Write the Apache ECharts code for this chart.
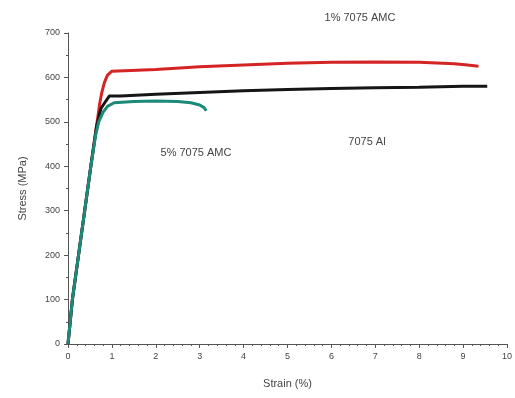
<!DOCTYPE html>
<html><head><meta charset="utf-8">
<script src="https://cdn.jsdelivr.net/npm/echarts@6/dist/echarts.min.js"></script>
<style>html,body{margin:0;padding:0;background:#fff}#c{width:515px;height:398px}</style>
</head><body><div id="c"></div>
<script>
const xTicks = [0,1,2,3,4,5,6,7,8,9,10];
const yTicks = [0,100,200,300,400,500,600,700];
const amc1Strain = [0,0.1,0.24,0.38,0.52,0.65,0.72,0.77,0.83,0.9,1.0,2,3,4,5,6,7,8,8.8,9.1,9.35];
const amc1Stress = [0,100,200,300,400,490,540,566,589,605,614,618,624,628,632,634,635,634,631,628,625];
const al7075Strain = [0,0.1,0.24,0.38,0.52,0.65,0.75,0.87,0.94,1.2,2,3,4,5,6,7,8,9,9.55];
const al7075Stress = [0,100,200,300,400,490,530,548,558,558,562,566,570,573,575,577,578,580,580];
const amc5Strain = [0,0.1,0.24,0.38,0.52,0.63,0.7,0.8,0.9,1.05,1.5,2,2.5,2.8,3.0,3.1,3.15];
const amc5Stress = [0,100,200,300,400,470,500,522,535,543,546,547,546,543,538,532,525];
const labels = ["1% 7075 AMC","7075 Al","5% 7075 AMC"];

const zip = (a,b)=>a.map((v,i)=>[v,b[i]]);
const chart = echarts.init(document.getElementById('c'));
const axisCol = '#555';
chart.setOption({
  animation:false,
  grid:{left:68,right:2,top:33,bottom:54},
  xAxis:{type:'value',min:xTicks[0],max:xTicks[xTicks.length-1],interval:1,
    name:'Strain (%)',nameLocation:'middle',nameGap:34,
    nameTextStyle:{fontFamily:'Liberation Sans',fontSize:11,color:'#444'},
    axisLine:{lineStyle:{color:axisCol,width:1}},
    axisTick:{show:true,length:4,lineStyle:{color:axisCol}},
    minorTick:{show:true,splitNumber:5,length:2,lineStyle:{color:axisCol}},
    axisLabel:{fontFamily:'Liberation Sans',fontSize:9,color:'#444',margin:8},
    splitLine:{show:false}},
  yAxis:{type:'value',min:yTicks[0],max:yTicks[yTicks.length-1],interval:100,
    name:'Stress (MPa)',nameLocation:'middle',nameGap:40,nameRotate:90,
    nameTextStyle:{fontFamily:'Liberation Sans',fontSize:11,color:'#444'},
    axisLine:{show:true,lineStyle:{color:axisCol,width:1}},
    axisTick:{show:true,length:4,lineStyle:{color:axisCol}},
    minorTick:{show:true,splitNumber:2,length:2,lineStyle:{color:axisCol}},
    axisLabel:{fontFamily:'Liberation Sans',fontSize:9,color:'#444',margin:8},
    splitLine:{show:false}},
  series:[
    {type:'line',name:labels[0],data:zip(amc1Strain,amc1Stress),showSymbol:false,smooth:false,
      lineStyle:{color:'#d42424',width:3},z:3},
    {type:'line',name:labels[1],data:zip(al7075Strain,al7075Stress),showSymbol:false,
      lineStyle:{color:'#151515',width:3},z:4},
    {type:'line',name:labels[2],data:zip(amc5Strain,amc5Stress),showSymbol:false,
      lineStyle:{color:'#1b8a78',width:3},z:5}
  ],
  graphic:[
    {type:'text',x:360,y:18,style:{text:labels[0],font:'11px "Liberation Sans"',fill:'#444',align:'center',verticalAlign:'middle'}},
    {type:'text',x:367,y:142,style:{text:labels[1],font:'11px "Liberation Sans"',fill:'#444',align:'center',verticalAlign:'middle'}},
    {type:'text',x:196,y:153,style:{text:labels[2],font:'11px "Liberation Sans"',fill:'#444',align:'center',verticalAlign:'middle'}}
  ]
});
</script></body></html>
